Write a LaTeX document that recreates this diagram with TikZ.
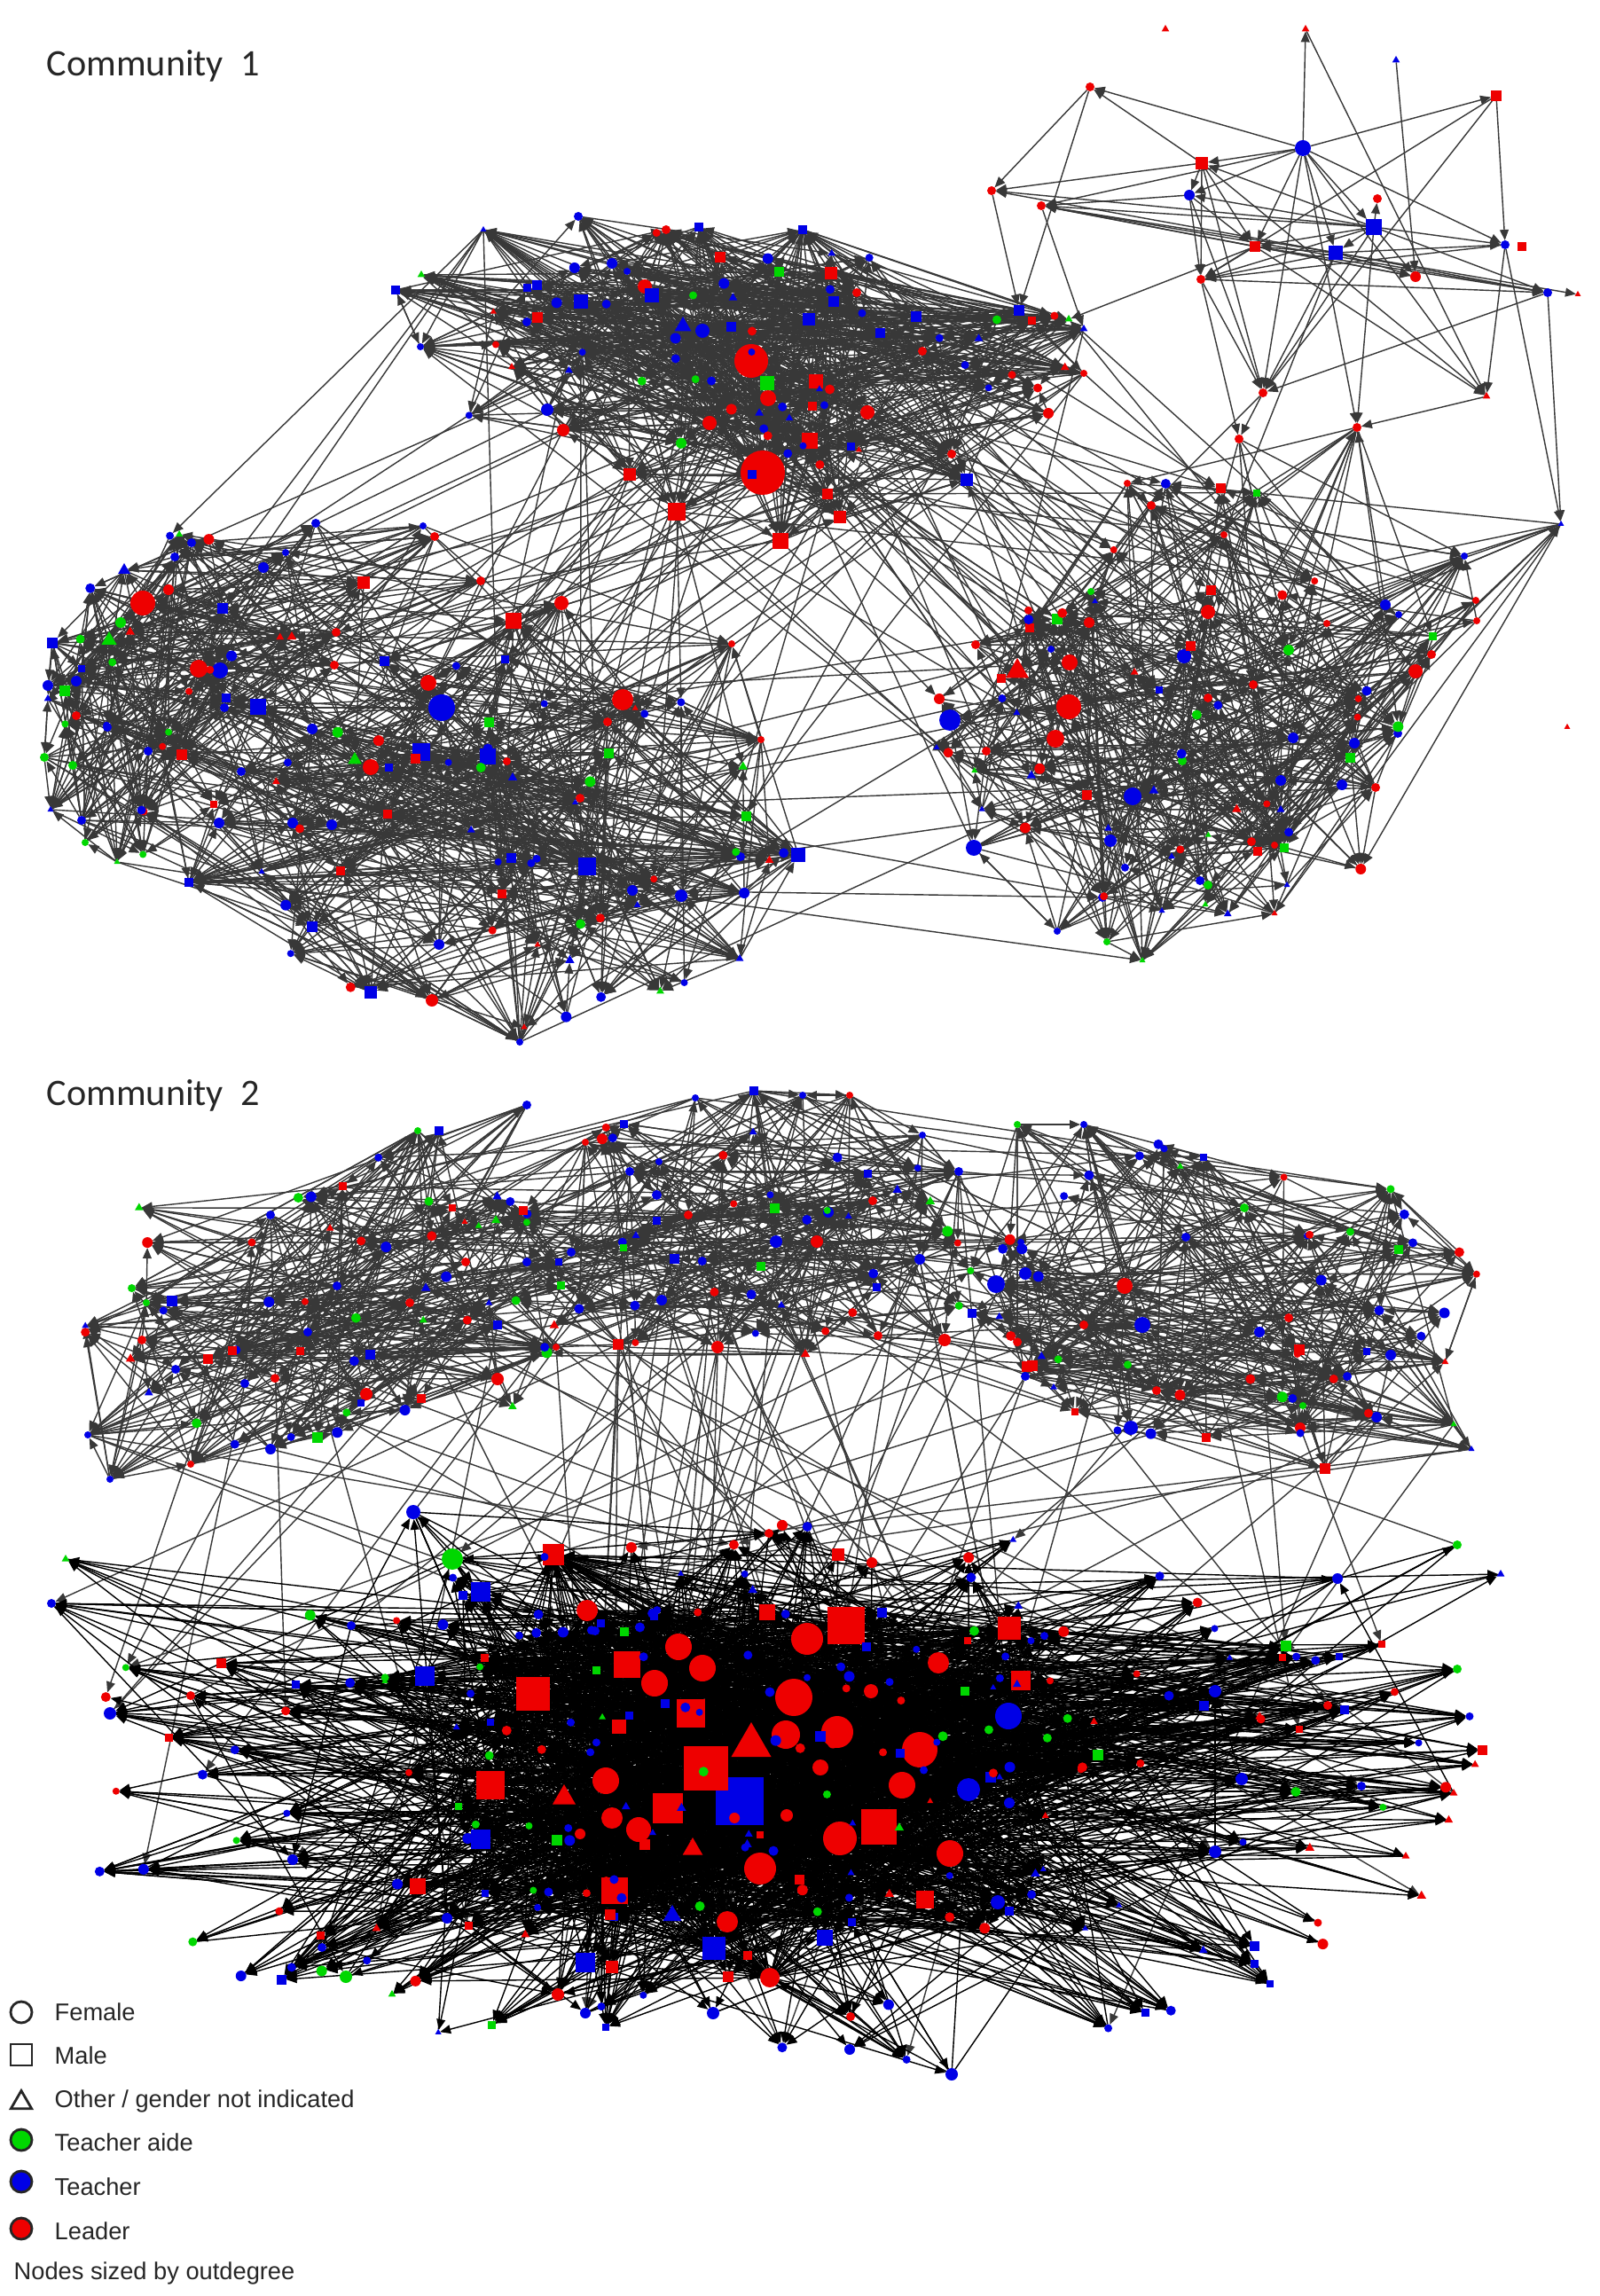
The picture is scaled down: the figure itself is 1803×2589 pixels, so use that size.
\documentclass[tikz,border=0pt]{standalone}
\usepackage{fontspec}
\setmainfont{Liberation Sans}
\newfontfamily\titlefont{Carlito}
\usetikzlibrary{arrows.meta,shapes.geometric,positioning}

\definecolor{ldr}{RGB}{238,0,0}
\definecolor{tch}{RGB}{0,0,230}
\definecolor{aid}{RGB}{0,215,0}

% gender -> shape
\newcommand{\fem}{circle}
\newcommand{\mal}{rectangle}
\newcommand{\oth}{regular polygon}

\pgfdeclarelayer{edges}
\pgfsetlayers{edges,main}

\tikzset{
  nd/.style={inner sep=0pt, outer sep=0pt, draw=none, regular polygon sides=3},
  lnk/.style={line width=0.4pt, -{Triangle[length=3.4pt,width=2.8pt]}},
  legsym/.style={inner sep=0pt, draw=black!85, line width=0.8pt, regular polygon sides=3},
  legtext/.style={anchor=base west, inner sep=0pt, text=black!85, font=\fontsize{7.75}{9}\selectfont},
  ttl/.style={anchor=base west, inner sep=0pt, text=black!85, font=\titlefont\fontsize{12}{14}\selectfont}
}

% named people: name/x/y/shape/colour/size
\newcommand{\people}[1]{%
  \foreach \nm/\px/\py/\sh/\cl/\sz in {#1}{
    \node[nd, shape=\sh, fill=\cl, minimum size=\sz*0.01cm] (\nm) at (\px,\py) {};
  }}

% small people scattered in an ellipse: prefix, count, cx, cy, rx, ry, inner radius
\newcommand{\nodecloud}[7]{%
  \foreach \k in {1,...,#2}{
    \pgfmathsetmacro{\rr}{sqrt(#7+(1-#7)*rnd)}
    \pgfmathsetmacro{\ag}{360*rnd}
    \pgfmathsetmacro{\px}{#3+#5*\rr*cos(\ag)}
    \pgfmathsetmacro{\py}{#4+#6*\rr*sin(\ag)}
    \pgfmathrandominteger{\ci}{1}{20}
    \pgfmathrandominteger{\si}{1}{10}
    \pgfmathrandominteger{\sz}{8}{12}
    \ifnum\ci<8 \def\cl{ldr}\else\ifnum\ci<18 \def\cl{tch}\else\def\cl{aid}\fi\fi
    \ifnum\si<7 \def\sh{circle}\else\ifnum\si<9 \def\sh{rectangle}\else\def\sh{regular polygon}\fi\fi
    \node[nd, shape=\sh, fill=\cl, minimum size=\sz*0.01cm] (#1\k) at (\px,\py) {};
  }}

% ties from one group to another: from, count, to, count, number
\newcommand{\fanlinks}[5]{%
  \foreach \k in {1,...,#5}{
    \pgfmathrandominteger{\ua}{1}{#2}
    \pgfmathrandominteger{\ub}{1}{#4}
    \draw[lnk] (#1\ua) -- (#3\ub);
  }}

% ties inside one group: prefix, count, number
\newcommand{\meshlinks}[3]{%
  \foreach \k in {1,...,#3}{
    \pgfmathrandominteger{\ua}{1}{#2}
    \pgfmathtruncatemacro{\ub}{mod(\ua+floor(rnd*(#2-1)),#2)+1}
    \draw[lnk] (#1\ua) -- (#1\ub);
  }}

\begin{document}
\begin{tikzpicture}[x=0.01cm, y=-0.01cm]
\pgfmathsetseed{11}
\useasboundingbox (0,0) rectangle (1803,2589);
\begin{pgfonlayer}{edges}
\fill[white] (0,0) rectangle (1803,2589);
\end{pgfonlayer}

% titles
\node[ttl] (t1) at (52,86) {Community\hspace{0.47em}1};
\node[ttl] (t2) at (52,1246) {Community\hspace{0.47em}2};

% community 1 - top
\people{A1/860/533/\fem/ldr/50, A2/847/407/\fem/ldr/38, A3/865/432/\mal/aid/16,
  A4/866/449/\fem/ldr/18, A5/763/577/\mal/ldr/20, A6/880/610/\mal/ldr/18,
  A7/947/583/\mal/ldr/14, A8/933/557/\mal/ldr/12, A9/913/497/\mal/ldr/18,
  A10/978/465/\fem/ldr/16, A11/920/430/\mal/ldr/16, A12/800/477/\fem/ldr/16,
  A13/710/535/\mal/ldr/14, A14/617/462/\fem/tch/14, A15/635/485/\fem/ldr/14,
  A16/655/340/\mal/tch/16, A17/727/323/\fem/ldr/16, A18/735/333/\mal/tch/16,
  A19/770/368/\oth/tch/22, A20/792/373/\fem/tch/16, A21/937/308/\mal/ldr/14,
  A22/940/340/\mal/tch/12, A23/912/360/\mal/tch/14, A24/1033/357/\mal/tch/12,
  A25/690/297/\fem/tch/12, A26/812/290/\mal/ldr/12, A27/1090/541/\mal/tch/14,
  A28/1149/350/\mal/tch/12, A29/1182/466/\fem/ldr/12, A30/788/256/\mal/tch/10,
  A31/905/259/\mal/tch/10, A32/652/244/\fem/tch/10, A33/446/327/\mal/tch/10,
  A34/474/391/\fem/tch/8, A35/475/310/\oth/aid/10, A36/751/259/\fem/ldr/10,
  A37/966/330/\fem/ldr/10, A38/1222/371/\oth/tch/10, A39/1222/421/\fem/ldr/8,
  A40/1205/360/\oth/aid/10, A41/1040/396/\fem/ldr/10, A42/1073/512/\fem/ldr/10,
  A43/545/259/\oth/tch/8, A44/594/363/\fem/tch/10}
\nodecloud{a}{60}{840}{400}{370}{150}{0}

% community 1 - top right
\people{B1/1314/33/\oth/ldr/10, B2/1472/33/\oth/ldr/10, B3/1574/68/\oth/tch/10,
  B4/1229/98/\fem/ldr/10, B5/1687/108/\mal/ldr/12, B6/1469/167/\fem/tch/18,
  B7/1355/184/\mal/ldr/14, B8/1118/215/\fem/ldr/10, B9/1341/220/\fem/tch/12,
  B10/1174/232/\fem/ldr/10, B11/1553/224/\fem/ldr/10, B12/1549/256/\mal/tch/18,
  B13/1415/278/\mal/ldr/12, B14/1506/285/\mal/tch/16, B15/1596/312/\fem/ldr/12,
  B16/1697/276/\fem/tch/10, B17/1716/278/\mal/ldr/10, B18/1354/315/\fem/ldr/10,
  B19/1745/330/\fem/tch/10, B20/1779/332/\oth/ldr/8, B21/1424/443/\fem/ldr/10,
  B22/1676/447/\oth/ldr/10, B23/1767/820/\oth/ldr/8}

% community 1 - left
\people{C1/161/680/\fem/ldr/28, C2/140/643/\oth/tch/16, C3/136/702/\fem/aid/12,
  C4/123/722/\oth/aid/20, C5/59/725/\mal/tch/12, C6/54/773/\fem/tch/12,
  C7/54/788/\oth/tch/10, C8/86/768/\fem/tch/12, C9/86/807/\fem/ldr/10,
  C10/121/820/\fem/tch/10, C11/50/854/\fem/aid/10, C12/82/863/\fem/aid/10,
  C13/57/913/\oth/tch/8, C14/92/925/\fem/tch/10, C15/96/950/\fem/aid/8,
  C16/132/972/\oth/aid/8, C17/167/847/\fem/tch/10, C18/224/754/\fem/ldr/20,
  C19/248/756/\fem/tch/18, C20/216/612/\fem/tch/10, C21/197/628/\fem/tch/10,
  C22/356/590/\fem/tch/10, C23/297/640/\fem/tch/12, C24/322/623/\fem/tch/8,
  C25/490/605/\fem/ldr/10, C26/477/593/\fem/tch/8, C27/410/657/\mal/ldr/14,
  C28/190/665/\fem/ldr/12, C29/379/713/\fem/ldr/10, C30/377/750/\fem/ldr/10,
  C31/542/655/\fem/ldr/10}
\nodecloud{c}{25}{200}{780}{170}{190}{0}

% community 1 - lower left
\people{D1/579/700/\mal/ldr/18, D2/633/680/\fem/ldr/16, D3/483/770/\fem/ldr/18,
  D4/498/798/\fem/tch/30, D5/475/848/\mal/tch/20, D6/550/853/\mal/tch/18,
  D7/400/857/\oth/aid/18, D8/418/865/\fem/ldr/18, D9/291/797/\mal/tch/18,
  D10/253/798/\fem/tch/10, D11/352/822/\fem/tch/12, D12/272/870/\fem/tch/10,
  D13/247/928/\fem/tch/12, D14/330/928/\fem/tch/12, D15/374/930/\fem/tch/12,
  D16/437/918/\mal/ldr/10, D17/295/983/\oth/tch/8, D18/213/995/\mal/tch/10,
  D19/702/789/\fem/ldr/24, D20/662/977/\mal/tch/20, D21/768/1010/\fem/tch/14,
  D22/713/1004/\fem/tch/12, D23/352/1045/\mal/tch/12, D24/418/1119/\mal/tch/14,
  D25/495/1065/\fem/tch/12, D26/487/1128/\fem/ldr/14, D27/654/900/\fem/ldr/10,
  D28/839/1007/\fem/tch/12, D29/900/964/\mal/tch/16, D30/835/966/\fem/tch/10,
  D31/834/1081/\oth/tch/10, D32/685/814/\fem/ldr/10, D33/586/1175/\fem/tch/8,
  D34/825/726/\fem/ldr/8, D35/858/834/\fem/ldr/8}
\nodecloud{d}{50}{580}{940}{320}{220}{0}

% community 1 - right
\people{E1/1147/757/\oth/ldr/30, E2/1205/797/\fem/ldr/28, E3/1190/833/\fem/ldr/20,
  E4/1206/747/\fem/ldr/18, E5/1071/812/\fem/tch/24, E6/1277/898/\fem/tch/20,
  E7/1098/956/\fem/tch/18, E8/1252/948/\fem/tch/14, E9/1362/690/\fem/ldr/16,
  E10/1228/702/\fem/ldr/12, E11/1100/727/\fem/ldr/10, E12/1335/740/\fem/tch/16,
  E13/1185/732/\fem/tch/8, E14/1413/772/\fem/ldr/10, E15/1362/787/\fem/ldr/10,
  E16/1333/858/\fem/aid/10, E17/1458/832/\fem/tch/12, E18/1527/838/\fem/tch/12,
  E19/1576/827/\fem/tch/10, E20/1596/757/\fem/ldr/16, E21/1614/738/\fem/ldr/10,
  E22/1562/682/\fem/tch/12, E23/1444/880/\fem/tch/12, E24/1513/885/\fem/tch/12,
  E25/1551/888/\fem/ldr/10, E26/1444/913/\oth/tch/10, E27/1411/949/\fem/ldr/10,
  E28/1437/953/\fem/ldr/8, E29/1451/998/\oth/tch/8, E30/1437/1030/\oth/ldr/8,
  E31/1353/993/\fem/tch/10, E32/1362/998/\fem/aid/10, E33/1359/1020/\oth/aid/8,
  E34/1243/1012/\fem/tch/10, E35/1310/1027/\oth/tch/8, E36/1192/1050/\fem/tch/8,
  E37/1248/1062/\fem/aid/8, E38/1288/1083/\oth/aid/8, E39/1056/843/\oth/tch/8,
  E40/1112/847/\fem/ldr/10, E41/1129/765/\mal/ldr/10, E42/1665/700/\fem/ldr/8,
  E43/1230/667/\fem/aid/8, E44/1496/703/\fem/ldr/8, E45/1298/570/\fem/ldr/10,
  E46/1530/482/\fem/ldr/10, E47/1397/495/\fem/ldr/10, E48/1760/591/\oth/tch/8,
  E49/1664/677/\fem/ldr/8, E50/1271/545/\fem/ldr/8, E51/1380/603/\fem/ldr/8,
  E52/1651/627/\fem/tch/8, E53/1577/693/\fem/tch/8}
\nodecloud{e}{50}{1340}{800}{300}{260}{0}

% community 2 - top left
\people{F1/413/1572/\fem/ldr/14, F2/561/1555/\fem/ldr/14, F3/305/1634/\fem/tch/12,
  F4/276/1560/\fem/tch/10, F5/347/1502/\fem/tch/10, F6/198/1544/\fem/tch/10,
  F7/160/1511/\fem/ldr/10, F8/495/1275/\mal/tch/10, F9/594/1246/\fem/tch/10,
  F10/471/1275/\fem/aid/8, F11/305/1370/\fem/tch/10, F12/380/1450/\fem/tch/10,
  F13/462/1469/\fem/ldr/10, F14/525/1423/\fem/ldr/10, F15/561/1494/\mal/tch/10,
  F16/99/1618/\fem/tch/8, F17/124/1668/\fem/tch/8, F18/215/1651/\fem/ldr/8,
  F19/627/1519/\fem/ldr/8, F20/165/1469/\fem/aid/8}
\nodecloud{f}{55}{370}{1470}{280}{180}{0}

% community 2 - top middle
\people{G1/697/1516/\mal/ldr/12, G2/809/1519/\fem/ldr/14, G3/908/1527/\oth/ldr/12,
  G4/1065/1511/\fem/ldr/14, G5/746/1466/\fem/tch/12, G6/875/1400/\fem/tch/14,
  G7/934/1367/\fem/tch/12, G8/921/1400/\fem/ldr/14, G9/1037/1420/\fem/tch/12,
  G10/850/1230/\mal/tch/10, G11/784/1238/\fem/tch/8, G12/905/1235/\fem/tch/8,
  G13/958/1235/\fem/ldr/8, G14/594/1423/\fem/tch/10, G15/644/1412/\fem/tch/10,
  G16/990/1506/\fem/ldr/10, G17/776/1370/\fem/ldr/10, G18/984/1354/\fem/ldr/10,
  G19/710/1321/\fem/tch/10, G20/1081/1321/\fem/tch/10, G21/660/1288/\fem/ldr/8,
  G22/1040/1280/\fem/tch/8}
\nodecloud{g}{45}{840}{1390}{330}{140}{0}

% community 2 - top right
\people{H1/1123/1448/\fem/tch/20, H2/1156/1436/\fem/tch/14, H3/1268/1450/\fem/ldr/18,
  H4/1288/1494/\fem/tch/18, H5/1275/1610/\fem/tch/16, H6/1164/1540/\mal/ldr/12,
  H7/1360/1621/\mal/ldr/10, H8/1466/1610/\fem/ldr/12, H9/1494/1656/\mal/ldr/12,
  H10/1403/1362/\fem/aid/10, H11/1552/1598/\fem/tch/12, H12/1639/1606/\oth/aid/8,
  H13/1222/1494/\fem/ldr/10, H14/1156/1552/\fem/tch/10, H15/1420/1502/\fem/tch/12,
  H16/1304/1568/\fem/ldr/10, H17/1337/1395/\fem/tch/10, H18/1222/1268/\fem/tch/8,
  H19/1147/1268/\fem/aid/8, H20/1659/1634/\oth/tch/8, H21/1519/1552/\fem/tch/10,
  H22/1453/1486/\fem/ldr/10, H23/1469/1585/\fem/aid/8}
\nodecloud{h}{50}{1380}{1460}{290}{180}{0}

% community 2 - core
\people{I1/834/2031/\mal/tch/54, I2/796/1994/\mal/ldr/50, I3/847/1968/\oth/ldr/52,
  I4/753/2039/\mal/ldr/34, I5/779/1932/\mal/ldr/32, I6/954/1833/\mal/ldr/42,
  I7/910/1848/\fem/ldr/36, I8/895/1914/\fem/ldr/42, I9/944/1953/\fem/ldr/36,
  I10/1037/1973/\fem/ldr/40, I11/886/1956/\fem/ldr/32, I12/991/2060/\mal/ldr/40,
  I13/947/2073/\fem/ldr/38, I14/887/2047/\fem/ldr/14, I15/857/2107/\fem/ldr/36,
  I16/1017/2013/\fem/ldr/30, I17/1071/2090/\fem/ldr/30, I18/601/1910/\mal/ldr/38,
  I19/553/2013/\mal/ldr/32, I20/707/1877/\mal/ldr/30, I21/765/1857/\fem/ldr/30,
  I22/792/1881/\fem/ldr/30, I23/738/1898/\fem/ldr/30, I24/683/2008/\fem/ldr/30,
  I25/690/2050/\fem/ldr/24, I26/720/2063/\fem/ldr/28, I27/636/2027/\oth/ldr/30,
  I28/781/2085/\oth/ldr/26, I29/693/2132/\mal/ldr/30, I30/662/1816/\fem/ldr/24,
  I31/624/1753/\mal/ldr/24, I32/1138/1836/\mal/ldr/26, I33/1151/1895/\mal/ldr/22,
  I34/1058/1875/\fem/ldr/24, I35/1137/1935/\fem/tch/30, I36/1092/2018/\fem/tch/26,
  I37/865/1818/\mal/ldr/18, I38/820/2167/\fem/ldr/24, I39/868/2230/\fem/ldr/22,
  I40/805/2197/\mal/tch/26, I41/758/2160/\oth/tch/24, I42/660/2213/\mal/tch/22,
  I43/542/1795/\mal/tch/22, I44/479/1890/\mal/tch/22, I45/510/1758/\fem/aid/24,
  I46/542/2074/\mal/tch/22, I47/471/2127/\mal/ldr/18, I48/930/2185/\mal/tch/18,
  I49/1043/2142/\mal/ldr/20, I50/1073/2339/\fem/tch/14, I51/466/1705/\fem/tch/16,
  I52/124/1932/\fem/tch/14, I53/1370/1907/\fem/tch/14, I54/1400/2006/\fem/tch/14,
  I55/1370/2088/\fem/tch/14, I56/390/2229/\fem/aid/14, I57/1643/1742/\fem/aid/10,
  I58/1692/1775/\oth/tch/10, I59/1643/1882/\fem/aid/10, I60/1585/2093/\oth/ldr/10,
  I61/58/1808/\fem/tch/10, I62/74/1758/\oth/aid/10, I63/945/1753/\mal/ldr/14,
  I64/867/1729/\fem/ldr/10, I65/1508/1780/\fem/tch/12, I66/629/2249/\fem/ldr/14,
  I67/804/2270/\fem/tch/14, I68/958/2311/\fem/tch/12, I69/660/2270/\fem/tch/12,
  I70/396/1833/\fem/tch/10, I71/215/1912/\fem/ldr/10, I72/330/2097/\fem/tch/12,
  I73/504/2163/\fem/tch/12, I74/363/2196/\fem/tch/10, I75/1535/2014/\fem/tch/10,
  I76/1639/2022/\oth/ldr/10, I77/698/1947/\mal/ldr/16, I78/925/1993/\fem/ldr/18,
  I79/982/1907/\fem/ldr/16, I80/1125/2145/\fem/tch/16, I81/1138/2033/\fem/tch/12,
  I82/690/2218/\mal/ldr/14, I83/983/1762/\fem/ldr/12}
\nodecloud{i}{120}{860}{2010}{430}{210}{0}
\nodecloud{j}{110}{870}{2020}{820}{310}{0.35}

\begin{pgfonlayer}{edges}
\begin{scope}[color=black!78]
  % community 1
  \meshlinks{A}{44}{180}
  \fanlinks{A}{44}{a}{60}{320}
  \fanlinks{a}{60}{A}{44}{120}
  \meshlinks{a}{60}{150}
  \foreach \u/\v in {B6/B2, B6/B4, B6/B5, B6/B7, B6/B12, B6/B13, B6/B14, B6/B16,
    B6/B21, B6/B22, B6/B10, B6/B9, B12/B8, B12/B10, B12/B13, B12/B9, B12/B7,
    B12/B14, B12/B15, B12/B16, B12/B18, B12/B19, B12/B21, B12/B11, B14/B10,
    B14/B13, B14/B8, B14/B19, B14/B20, B14/B21, B14/B18, B14/B15, B14/B16,
    B7/B8, B7/B9, B7/B18, B7/B13, B7/B4, B7/B22, B7/B21, B3/B15, B5/B16,
    B5/B21, B5/B18, B16/B22, B16/B18, B19/B21, B19/B10, B9/B13, B9/B10,
    B9/B18, B9/B21, B13/B10, B13/B18, B13/B15, B13/B19, B13/B22, B2/B22,
    B18/B21, B4/B8, B15/B10, B18/B19, B8/A28, B10/A38, B4/A28, B18/E47,
    B21/E47, B13/A40, B21/E45, B6/E46, B12/E46, B14/E51, B22/E46, B16/E48,
    B19/E48}
    \draw[lnk] (\u) -- (\v);
  \meshlinks{C}{31}{120}
  \fanlinks{C}{31}{c}{25}{100}
  \meshlinks{c}{25}{60}
  \meshlinks{D}{35}{150}
  \fanlinks{D}{35}{d}{50}{200}
  \meshlinks{d}{50}{120}
  \fanlinks{C}{31}{D}{35}{80}
  \fanlinks{D}{35}{c}{25}{50}
  \meshlinks{E}{53}{180}
  \fanlinks{E}{53}{e}{50}{200}
  \meshlinks{e}{50}{120}
  \fanlinks{A}{44}{d}{50}{40}
  \fanlinks{A}{44}{c}{25}{20}
  \fanlinks{A}{44}{e}{50}{35}
  \fanlinks{E}{53}{A}{44}{25}
  \fanlinks{D}{35}{E}{53}{12}
  % community 2 - upper groups
  \meshlinks{F}{20}{80}
  \fanlinks{F}{20}{f}{55}{150}
  \meshlinks{f}{55}{120}
  \meshlinks{G}{22}{80}
  \fanlinks{G}{22}{g}{45}{130}
  \meshlinks{g}{45}{100}
  \meshlinks{H}{23}{100}
  \fanlinks{H}{23}{h}{50}{160}
  \meshlinks{h}{50}{120}
  \fanlinks{G}{22}{f}{55}{40}
  \fanlinks{G}{22}{h}{50}{40}
  \fanlinks{f}{55}{g}{45}{30}
  \fanlinks{G}{22}{I}{83}{30}
  \fanlinks{F}{20}{j}{110}{20}
  \fanlinks{H}{23}{j}{110}{20}
  \fanlinks{I}{83}{g}{45}{20}
\end{scope}
  % community 2 - core
  \meshlinks{I}{83}{350}
  \fanlinks{I}{40}{i}{120}{900}
  \fanlinks{I}{40}{j}{110}{550}
  \meshlinks{i}{120}{500}
  \fanlinks{i}{120}{j}{110}{200}
  \fanlinks{j}{110}{i}{120}{150}
\end{pgfonlayer}

% legend
\node[legsym, circle, fill=white, minimum size=0.24cm] (lgf) at (24,2269) {};
\node[legsym, rectangle, fill=white, minimum size=0.24cm] (lgm) at (24,2317) {};
\node[legsym, regular polygon, fill=white, minimum size=0.27cm] (lgo) at (24,2371) {};
\node[legsym, circle, fill=aid, minimum size=0.24cm] (lga) at (24,2413) {};
\node[legsym, circle, fill=tch, minimum size=0.24cm] (lgt) at (24,2460) {};
\node[legsym, circle, fill=ldr, minimum size=0.24cm] (lgl) at (24,2513) {};
\node[legtext] (txf) at (61,2278) {Female};
\node[legtext] (txm) at (61,2327) {Male};
\node[legtext] (txo) at (61,2376) {Other / gender not indicated};
\node[legtext] (txa) at (61,2425) {Teacher aide};
\node[legtext] (txt) at (61,2475) {Teacher};
\node[legtext] (txl) at (61,2525) {Leader};
\node[legtext] (txs) at (15,2570) {Nodes sized by outdegree};

\end{tikzpicture}
\end{document}
